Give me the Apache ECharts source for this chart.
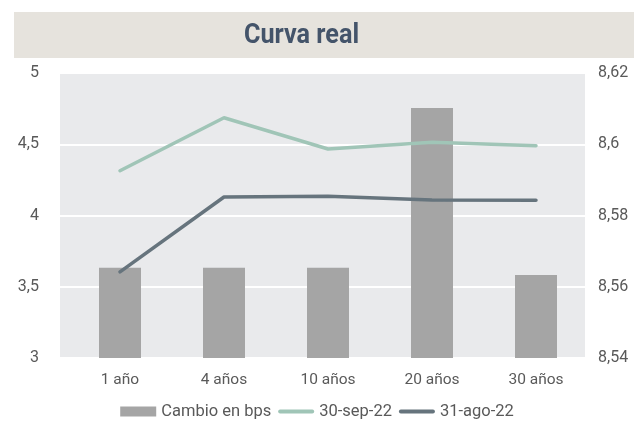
<!DOCTYPE html>
<html>
<head>
<meta charset="utf-8">
<script src="https://cdn.jsdelivr.net/npm/echarts@6/dist/echarts.min.js"></script>
<style>
  html, body { margin: 0; padding: 0; background: #fff; }
  #chart { width: 634px; height: 426px; }
</style>
</head>
<body>
<div id="chart"></div>
<script>
// datos
const plazos = ['1 año', '4 años', '10 años', '20 años', '30 años'];
const cambioBps = [8.5653, 8.5653, 8.5653, 8.6102, 8.5633];
const sep22 = [4.314, 4.686, 4.467, 4.514, 4.490];
const ago22 = [3.604, 4.130, 4.135, 4.109, 4.107];

const fmt = v => String(parseFloat(v.toFixed(2))).replace('.', ',');
const txt = '#595959';
const font = 'Roboto';
const lineIcon = 'path://M2,0H36A2,2,0,0,1,36,4H2A2,2,0,0,1,2,0Z';

let chart = echarts.init(document.getElementById('chart'));
let option = {
  animation: false,
  textStyle: { fontFamily: font },
  graphic: [
    {
      type: 'rect',
      shape: { x: 14, y: 12, width: 620, height: 46 },
      style: { fill: '#e6e3dd' },
      z: -10,
    },
    {
      type: 'text',
      x: 301.5,
      y: 36,
      scaleX: 0.9,
      style: {
        text: 'Curva real',
        fill: '#44546a',
        font: 'bold 28px Roboto',
        align: 'center',
        verticalAlign: 'middle',
      },
    },
  ],
  legend: {
    bottom: 1,
    left: 'center',
    itemWidth: 36,
    itemHeight: 10,
    itemGap: 7,
    textStyle: { color: txt, fontSize: 16.5, fontFamily: font },
    data: [
      { name: 'Cambio en bps', icon: 'rect' },
      { name: '30-sep-22', icon: lineIcon },
      { name: '31-ago-22', icon: lineIcon },
    ],
  },
  grid: [
    // fondo gris y lineas de division
    { left: 60, right: 49, top: 73, bottom: 68, show: true, backgroundColor: '#e9eaec', borderWidth: 0 },
    // area de datos
    { left: 68, right: 46, top: 73, bottom: 68 },
  ],
  xAxis: [
    { type: 'value', gridIndex: 0, show: false, splitLine: { show: false } },
    {
      type: 'category',
      gridIndex: 1,
      data: plazos,
      axisLine: { show: false },
      axisTick: { show: false },
      axisLabel: { color: txt, fontSize: 15.5, margin: 14 },
    },
  ],
  yAxis: [
    {
      type: 'value',
      gridIndex: 0,
      min: 3,
      max: 5,
      interval: 0.5,
      axisLine: { show: false },
      axisTick: { show: false },
      axisLabel: { color: txt, fontSize: 16, margin: 21, formatter: fmt },
      splitLine: { lineStyle: { color: '#ffffff', width: 2 } },
    },
    {
      type: 'value',
      gridIndex: 0,
      position: 'right',
      min: 8.54,
      max: 8.62,
      interval: 0.02,
      axisLine: { show: false },
      axisTick: { show: false },
      axisLabel: { color: txt, fontSize: 16, margin: 13, formatter: fmt },
      splitLine: { show: false },
    },
    { type: 'value', gridIndex: 1, min: 3, max: 5, show: false, splitLine: { show: false } },
    { type: 'value', gridIndex: 1, min: 8.54, max: 8.62, show: false, splitLine: { show: false } },
  ],
  series: [
    {
      name: 'Cambio en bps',
      type: 'bar',
      xAxisIndex: 1,
      yAxisIndex: 3,
      data: cambioBps,
      barWidth: 42,
      itemStyle: { color: '#a5a5a5' },
      z: 1,
    },
    {
      name: '30-sep-22',
      type: 'line',
      xAxisIndex: 1,
      yAxisIndex: 2,
      data: sep22,
      symbol: 'none',
      lineStyle: { color: '#a0c5b7', width: 3.5, cap: 'round' },
      itemStyle: { color: '#a0c5b7' },
      z: 3,
    },
    {
      name: '31-ago-22',
      type: 'line',
      xAxisIndex: 1,
      yAxisIndex: 2,
      data: ago22,
      symbol: 'none',
      lineStyle: { color: '#66747d', width: 3.5, cap: 'round' },
      itemStyle: { color: '#66747d' },
      z: 3,
    },
  ],
};
chart.setOption(option);
</script>
</body>
</html>
